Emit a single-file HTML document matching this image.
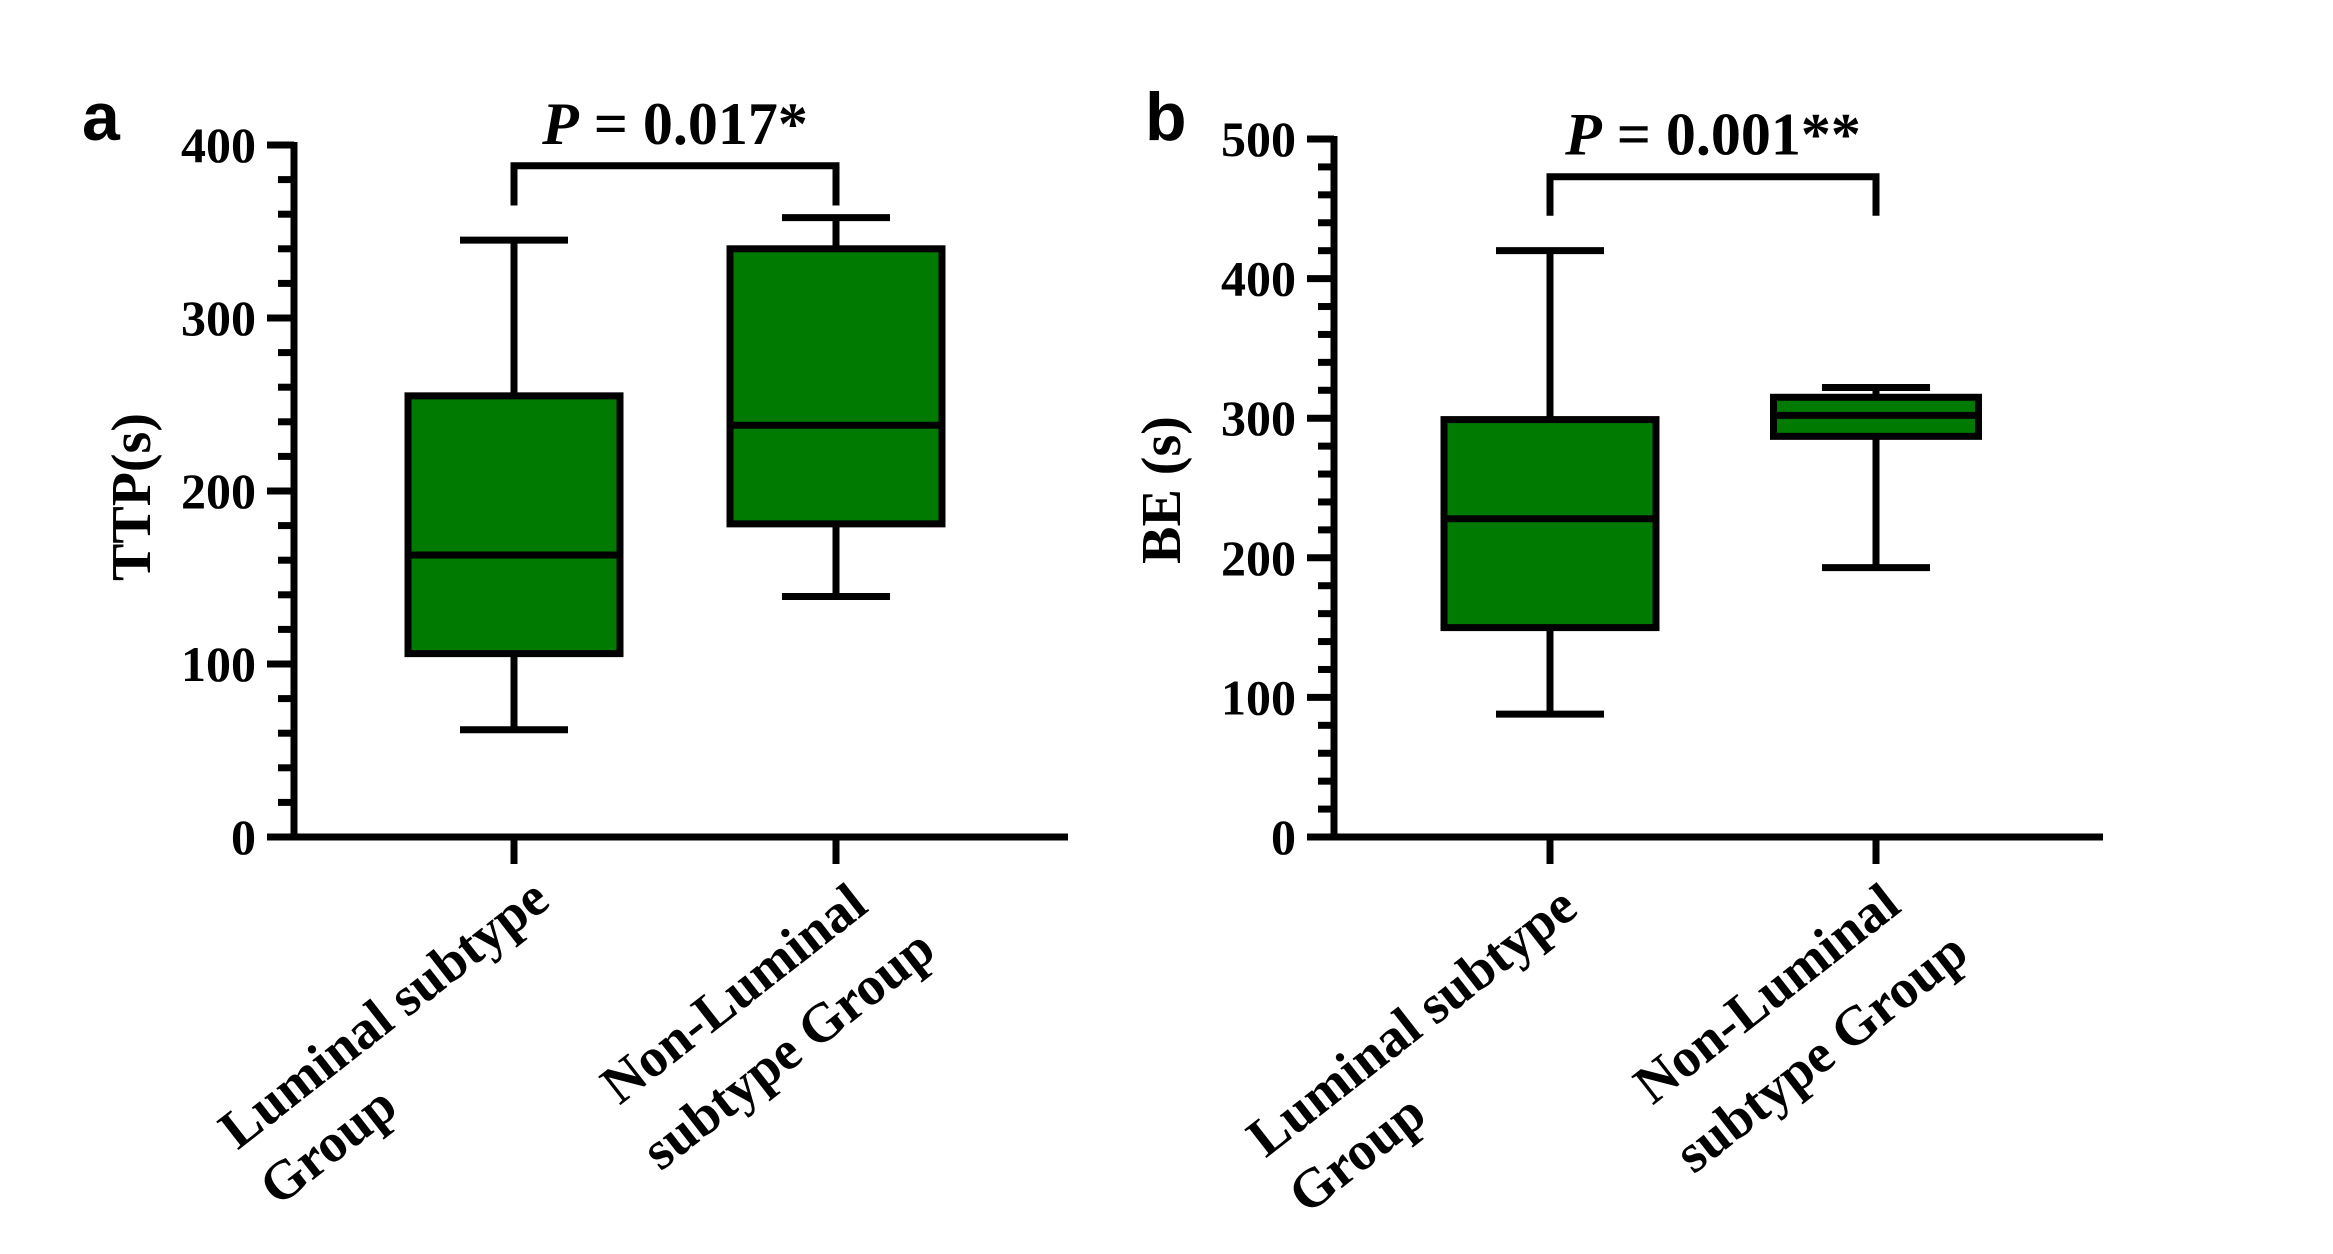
<!DOCTYPE html>
<html><head><meta charset="utf-8"><style>
html,body{margin:0;padding:0;background:#fff;}
svg{display:block;}
text{font-family:"Liberation Serif","Times New Roman",serif;font-weight:bold;fill:#000;}
</style></head><body>
<svg id="chart" width="2333" height="1254" viewBox="0 0 2333 1254" xmlns="http://www.w3.org/2000/svg"></svg>
<script>
// Panel a data (TTP)
const catsA = ["Luminal subtype Group","Non-Luminal subtype Group"];
const minA = [62, 139];
const q1A = [106, 181];
const medA = [163, 238];
const q3A = [255, 340];
const maxA = [345, 358];
const ticksA = [0,100,200,300,400];
// Panel b data (BE)
const catsB = ["Luminal subtype Group","Non-Luminal subtype Group"];
const minB = [88, 193];
const q1B = [150, 287];
const medB = [228, 302];
const q3B = [299, 315];
const maxB = [420, 322];
const ticksB = [0,100,200,300,400,500];

const NS="http://www.w3.org/2000/svg";
const svg=document.getElementById('chart');
function mk(tag,attrs,parent){const e=document.createElementNS(NS,tag);for(const k in attrs)e.setAttribute(k,attrs[k]);(parent||svg).appendChild(e);return e;}
const LW=7;

function panel(cfg){
  const g=mk('g',{});
  
  
  const y=v=>cfg.y0-(v-cfg.vmin)/(cfg.vmax-cfg.vmin)*(cfg.y0-cfg.y1);
  const ya=mk('line',{x1:cfg.ax,y1:y(cfg.vmax)-3,x2:cfg.ax,y2:cfg.y0+3,stroke:'#000','stroke-width':LW},g);
  
  
  const xa=mk('line',{x1:cfg.xl,y1:cfg.y0,x2:cfg.xr,y2:cfg.y0,stroke:'#000','stroke-width':LW},g);
  
  
  for(let v=cfg.vmin; v<=cfg.vmax; v+=20){
    const major=(v%100===0);
    const t=mk('line',{x1:cfg.ax-(major?27:16),y1:y(v),x2:cfg.ax,y2:y(v),stroke:'#000','stroke-width':LW},g);
    
    
  }
  cfg.ticks.forEach(v=>{
    const t=mk('text',{x:cfg.ax-38,y:y(v)+17,'text-anchor':'end','font-size':50},g);
    t.textContent=v;
    
    
  });
  const yt=mk('text',{x:0,y:0,'text-anchor':'middle','font-size':56,transform:`translate(${cfg.titleX},${cfg.titleY}) rotate(-90)`},g);
  yt.textContent=cfg.title;
  
  
  const pl=mk('text',{x:cfg.letterX,y:140,'font-size':68,style:'font-family:"Liberation Sans",sans-serif;font-weight:bold'},g);
  pl.textContent=cfg.letter;
  
  
  cfg.cats.forEach((c,i)=>{
    const cx=cfg.cx[i], hw=cfg.bw[i]/2;
    const xt=mk('line',{x1:cx,y1:cfg.y0,x2:cx,y2:cfg.y0+27,stroke:'#000','stroke-width':LW},g);
    
    
    const w1=mk('line',{x1:cx,y1:y(cfg.max[i]),x2:cx,y2:y(cfg.q3[i]),stroke:'#000','stroke-width':LW},g);
    
    
    const w2=mk('line',{x1:cx,y1:y(cfg.q1[i]),x2:cx,y2:y(cfg.min[i]),stroke:'#000','stroke-width':LW},g);
    
    
    const c1=mk('line',{x1:cx-54,y1:y(cfg.max[i]),x2:cx+54,y2:y(cfg.max[i]),stroke:'#000','stroke-width':LW},g);
    
    
    const c2=mk('line',{x1:cx-54,y1:y(cfg.min[i]),x2:cx+54,y2:y(cfg.min[i]),stroke:'#000','stroke-width':LW},g);
    
    
    const r=mk('rect',{x:cx-hw,y:y(cfg.q3[i]),width:2*hw,height:y(cfg.q1[i])-y(cfg.q3[i]),fill:'#007a00',stroke:'#000','stroke-width':LW},g);
    
    
    const m=mk('line',{x1:cx-hw,y1:y(cfg.med[i]),x2:cx+hw,y2:y(cfg.med[i]),stroke:'#000','stroke-width':LW},g);
    
    
  });
  cfg.labels.forEach(L=>{
    const t=mk('text',{x:0,y:0,'text-anchor':'end','font-size':55,transform:`translate(${L[1]},${L[2]}) rotate(-38)`},g);
    t.textContent=L[0];
    
    
  });
  const by=y(cfg.brTop), bd=y(cfg.brDrop);
  const br=mk('polyline',{points:`${cfg.cx[0]},${bd} ${cfg.cx[0]},${by} ${cfg.cx[1]},${by} ${cfg.cx[1]},${bd}`,fill:'none',stroke:'#000','stroke-width':LW},g);
  
  
  const pt=mk('text',{x:(cfg.cx[0]+cfg.cx[1])/2,y:by-22,'text-anchor':'middle','font-size':60},g);
  pt.innerHTML='<tspan font-style="italic">P</tspan> = '+cfg.p;
  
  
}

panel({name:'panel-a-ttp',vmin:0,vmax:400,y0:837,y1:145,ax:294,xl:268,xr:1068,cx:[514,836],bw:[212,212],
  cats:catsA,min:minA,q1:q1A,med:medA,q3:q3A,max:maxA,ticks:ticksA,title:'TTP(s)',titleX:150,titleY:497,
  letter:'a',letterX:82,brTop:388,brDrop:365,p:'0.017*',
  labels:[['Luminal subtype',552,905],['Group',400,1112],['Non-Luminal',870,910],['subtype Group',938,955]]});
panel({name:'panel-b-be',vmin:0,vmax:500,y0:837,y1:139,ax:1334,xl:1308,xr:2103,cx:[1550,1876],bw:[212,205],
  cats:catsB,min:minB,q1:q1B,med:medB,q3:q3B,max:maxB,ticks:ticksB,title:'BE (s)',titleX:1180,titleY:490,
  letter:'b',letterX:1145,brTop:473,brDrop:445,p:'0.001**',
  labels:[['Luminal subtype',1580,913],['Group',1429,1120],['Non-Luminal',1903,910],['subtype Group',1971,958]]});
</script>
</body></html>
